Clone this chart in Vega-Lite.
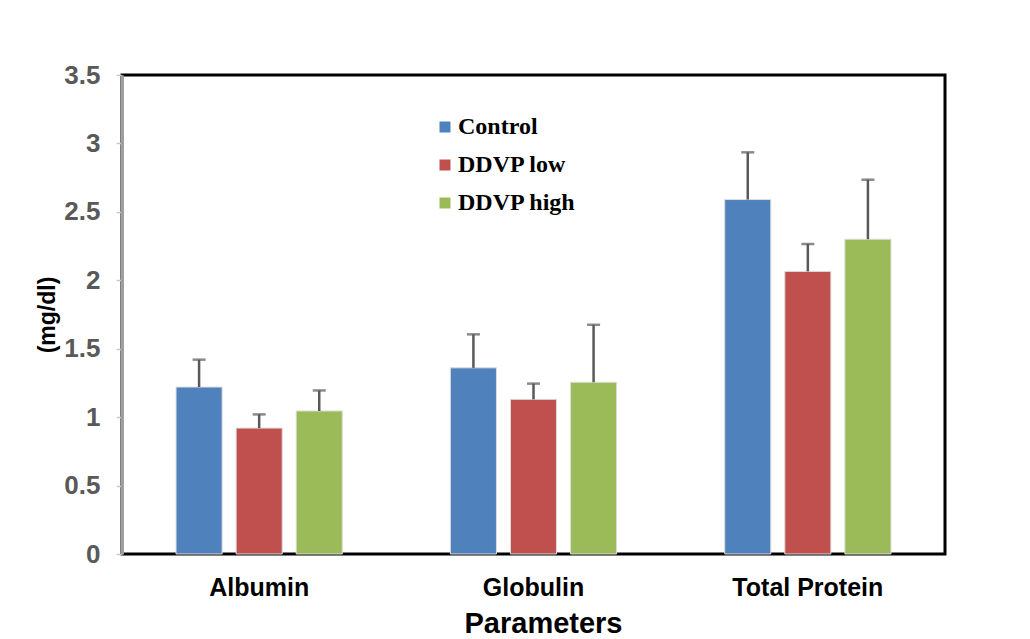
{
  "$schema": "https://vega.github.io/schema/vega-lite/v6.json",
  "width": 823,
  "height": 479,
  "autosize": "none",
  "padding": {"left": 122, "top": 75, "right": 85, "bottom": 85},
  "background": "white",
  "config": {
    "view": {"stroke": "#000000", "strokeWidth": 3},
    "font": "Liberation Sans"
  },
  "data": {
    "values": [
      {"param": "Albumin", "group": "Control", "value": 1.22, "hi": 1.42},
      {"param": "Albumin", "group": "DDVP low", "value": 0.92, "hi": 1.02},
      {"param": "Albumin", "group": "DDVP high", "value": 1.045, "hi": 1.195},
      {"param": "Globulin", "group": "Control", "value": 1.36, "hi": 1.605},
      {"param": "Globulin", "group": "DDVP low", "value": 1.13, "hi": 1.245},
      {"param": "Globulin", "group": "DDVP high", "value": 1.255, "hi": 1.675},
      {"param": "Total Protein", "group": "Control", "value": 2.59, "hi": 2.935},
      {"param": "Total Protein", "group": "DDVP low", "value": 2.065, "hi": 2.265},
      {"param": "Total Protein", "group": "DDVP high", "value": 2.30, "hi": 2.735}
    ]
  },
  "encoding": {
    "x": {
      "field": "param", "type": "nominal", "sort": null,
      "scale": {"paddingInner": 0.394, "paddingOuter": 0.197},
      "axis": {
        "title": "Parameters", "labelAngle": 0, "ticks": false, "domain": false,
        "labelFont": "Liberation Sans", "labelFontSize": 25, "labelFontWeight": "bold", "labelColor": "#000000",
        "labelPadding": 21,
        "titleFont": "Liberation Sans", "titleFontSize": 29, "titleFontWeight": "bold", "titleColor": "#000000",
        "titlePadding": 9, "titleX": 421
      }
    },
    "xOffset": {
      "field": "group", "type": "nominal", "sort": ["Control", "DDVP low", "DDVP high"],
      "scale": {"paddingInner": 0.233, "paddingOuter": 0}
    }
  },
  "layer": [
    {
      "mark": {"type": "bar", "stroke": "#dcdcdc", "strokeWidth": 1},
      "encoding": {
        "y": {
          "field": "value", "type": "quantitative",
          "scale": {"domain": [0, 3.5], "nice": false},
          "axis": {
            "title": "(mg/dl)", "values": [0, 0.5, 1, 1.5, 2, 2.5, 3, 3.5], "format": "~g", "grid": false,
            "domainColor": "#a0a0a0", "domainWidth": 3,
            "tickColor": "#c8c8c8", "tickSize": 6, "tickWidth": 1.5,
            "labelFont": "Liberation Sans", "labelFontSize": 26, "labelFontWeight": "bold", "labelColor": "#595959",
            "labelPadding": 16,
            "titleFont": "Liberation Sans", "titleFontSize": 23, "titleFontWeight": "bold", "titleColor": "#000000",
            "titlePadding": 4
          }
        },
        "color": {
          "field": "group", "type": "nominal", "sort": ["Control", "DDVP low", "DDVP high"],
          "scale": {"domain": ["Control", "DDVP low", "DDVP high"], "range": ["#4f81bd", "#c0504d", "#9bbb59"]},
          "legend": {
            "title": null, "orient": "none", "legendX": 311, "legendY": 40, "padding": 0,
            "symbolType": "square", "symbolSize": 121, "symbolStrokeWidth": 0,
            "labelFont": "Liberation Serif", "labelFontSize": 24, "labelFontWeight": "bold", "labelColor": "#000000",
            "labelOffset": 1, "rowPadding": 14
          }
        }
      }
    },
    {
      "mark": {"type": "rule", "color": "#595959", "strokeWidth": 2.5},
      "encoding": {
        "y": {"field": "value", "type": "quantitative"},
        "y2": {"field": "hi"}
      }
    },
    {
      "mark": {"type": "tick", "color": "#595959", "thickness": 2.5, "size": 13, "orient": "horizontal"},
      "encoding": {
        "y": {"field": "hi", "type": "quantitative"}
      }
    }
  ]
}
